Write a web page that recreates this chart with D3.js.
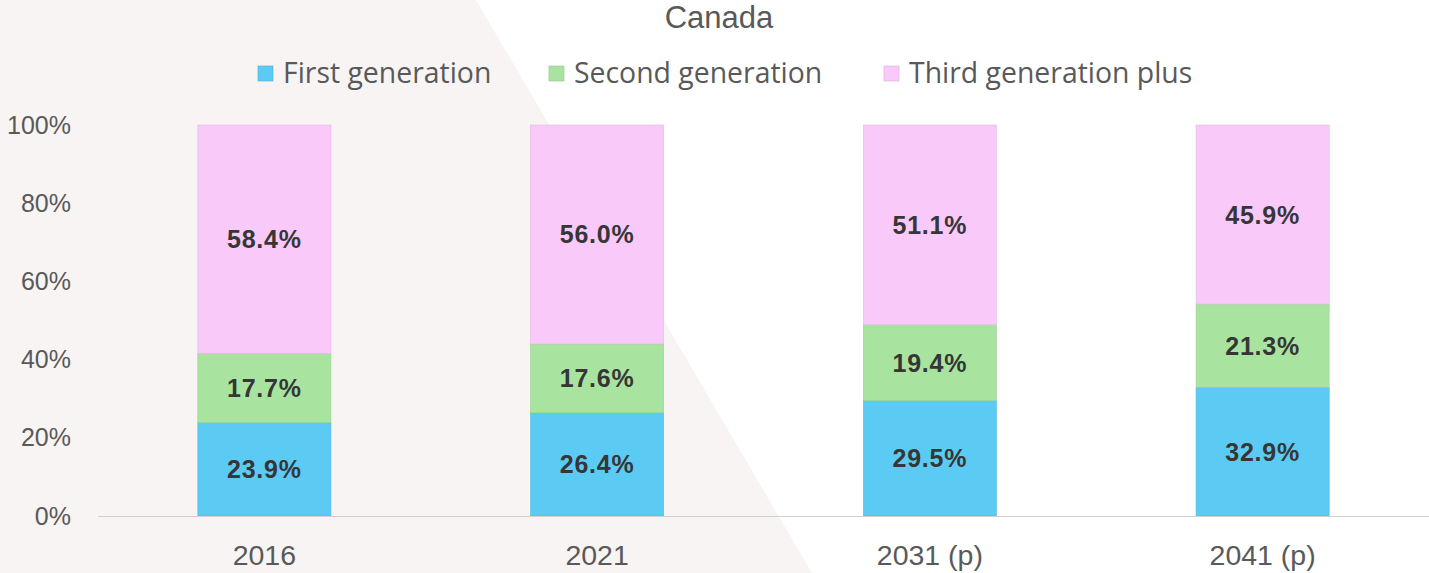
<!DOCTYPE html>
<html><head><meta charset="utf-8">
<script src="https://cdn.jsdelivr.net/npm/d3@7/dist/d3.min.js"></script>
<style>body{margin:0;background:#fff;}svg{display:block;}</style>
</head><body>
<svg id="c" width="1429" height="573"></svg>
<script>
const categories = ["2016", "2021", "2031 (p)", "2041 (p)"];
const seriesNames = ["First generation", "Second generation", "Third generation plus"];
const firstGen = [23.9, 26.4, 29.5, 32.9];
const secondGen = [17.7, 17.6, 19.4, 21.3];
const thirdGen = [58.4, 56.0, 51.1, 45.9];
const yTicks = [0, 20, 40, 60, 80, 100];
const colors = ["#5ccbf3", "#a9e3a0", "#f9c9f9"];
const title = "Canada";

const W = 1429, H = 573;
const svg = d3.select("#c");
const font = "'Open Sans', sans-serif";
const arial = "'Liberation Sans', Arial, sans-serif";

// background polygon
svg.append("rect").attr("width", W).attr("height", H).attr("fill", "#ffffff");
svg.append("path").attr("d", `M0,0 L476,0 L812,${H} L0,${H} Z`).attr("fill", "#f7f4f3");

const m = {left: 98, right: 0, top: 125, bottom: 57};
const x = d3.scaleBand().domain(categories).range([m.left, W - m.right]).paddingInner(0.6).paddingOuter(0.3);
const y = d3.scaleLinear().domain([0, 100]).range([H - m.bottom, m.top]);

const rows = categories.map((c, i) => ({cat: c, s0: firstGen[i], s1: secondGen[i], s2: thirdGen[i]}));
const stack = d3.stack().keys(["s0", "s1", "s2"])(rows);

const g = svg.append("g");
stack.forEach((layer, li) => {
  g.selectAll(null).data(layer).enter().append("rect")
    .attr("x", d => x(d.data.cat))
    .attr("width", x.bandwidth())
    .attr("y", d => y(Math.min(d[1], 100)))
    .attr("height", d => y(d[0]) - y(Math.min(d[1], 100)))
    .attr("fill", colors[li])
    .attr("stroke", d3.color(colors[li]).darker(0.25))
    .attr("stroke-width", 0.6);
  g.selectAll(null).data(layer).enter().append("text")
    .attr("x", d => x(d.data.cat) + x.bandwidth() / 2)
    .attr("y", d => y((d[0] + Math.min(d[1], 100)) / 2))
    .attr("dy", "0.36em")
    .attr("text-anchor", "middle")
    .attr("font-family", arial)
    .attr("font-weight", "bold")
    .attr("font-size", 25)
    .attr("letter-spacing", 0.8)
    .attr("fill", "#363636")
    .text(d => (d[1] - d[0]).toFixed(1) + "%");
});

// baseline
svg.append("line").attr("x1", m.left).attr("x2", W).attr("y1", y(0) + 0.5).attr("y2", y(0) + 0.5)
  .attr("stroke", "#d0d0d0").attr("stroke-width", 1.2);

// y axis
const yAxis = d3.axisLeft(y).tickValues(yTicks).tickFormat(d => d + "%").tickSize(0).tickPadding(0);
const ya = svg.append("g").attr("transform", `translate(71,0)`).call(yAxis);
ya.select(".domain").remove();
ya.selectAll("text").attr("font-family", arial).attr("font-size", 25).attr("fill", "#595959");

// x axis
const xAxis = d3.axisBottom(x).tickSize(0).tickPadding(0);
const xa = svg.append("g").attr("transform", `translate(0,555)`).call(xAxis);
xa.select(".domain").remove();
xa.selectAll("text").attr("font-family", arial).attr("font-size", 28.5).attr("fill", "#595959").attr("dy", "0.35em").attr("y", 0);

// title
svg.append("text").attr("x", 719).attr("y", 17).attr("dy", "0.35em").attr("text-anchor", "middle")
  .attr("font-family", arial).attr("font-size", 31).attr("fill", "#595959").text(title);

// legend
const legX = [258, 549, 884];
const leg = svg.append("g");
seriesNames.forEach((n, i) => {
  leg.append("rect").attr("x", legX[i]).attr("y", 66).attr("width", 15).attr("height", 15)
    .attr("fill", colors[i]).attr("stroke", d3.color(colors[i]).darker(0.4)).attr("stroke-width", 0.6);
  leg.append("text").attr("x", legX[i] + 25).attr("y", 73).attr("dy", "0.35em")
    .attr("font-family", font).attr("font-size", 28.4).attr("fill", "#595959").text(n);
});
</script>
</body></html>
